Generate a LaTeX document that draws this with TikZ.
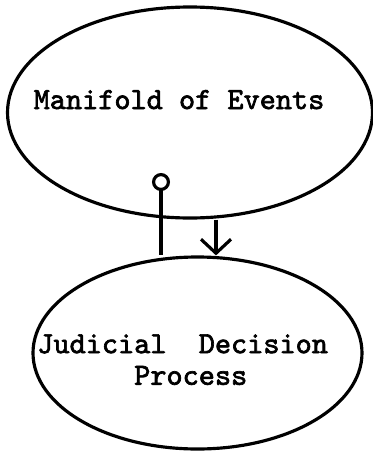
\documentclass[tikz,border=0pt]{standalone}
\usepackage{fontspec}
\setmonofont{lmmono10-regular.otf}[AutoFakeBold=2.2]
\usepackage{tikz}
\usetikzlibrary{shapes.geometric,positioning,calc,arrows.meta}

\begin{document}
\begin{tikzpicture}[
    oval/.style={draw,ellipse,line width=1.8pt,inner sep=0pt},
    typed/.style={font=\fontsize{17.5pt}{18pt}\selectfont\ttfamily\bfseries,inner sep=0pt},
    link/.style={line width=1.8pt}]
    \useasboundingbox (0,0) rectangle (7.46,-9.06);

    % Ellipses
    \node[oval,minimum width=7.3cm,minimum height=4.22cm] (events) at (3.8,-2.25) {};
    \node[oval,minimum width=6.58cm,minimum height=3.84cm] (decision) at (3.95,-7.06) {};

    % Labels
    \node[typed,anchor=base] (eventsText) at (3.58,-2.18) {Manifold of Events};
    \node[typed,anchor=north west,align=left] (decisionText) at (0.74,-6.68) {Judicial~~Decision\\\hspace*{3.15em}Process};

    % Connectors
    \coordinate (pin) at (3.22,-3.46);
    \draw[link,{Circle[open,length=0.36cm,width=0.36cm]}-] (pin) -- (pin |- decision.north);
    \draw[link,-{Straight Barb[length=0.28cm,width=0.6cm]}] ([xshift=0.52cm]events.south) -- ([xshift=0.52cm]events.south |- decision.north);
\end{tikzpicture}
\end{document}
